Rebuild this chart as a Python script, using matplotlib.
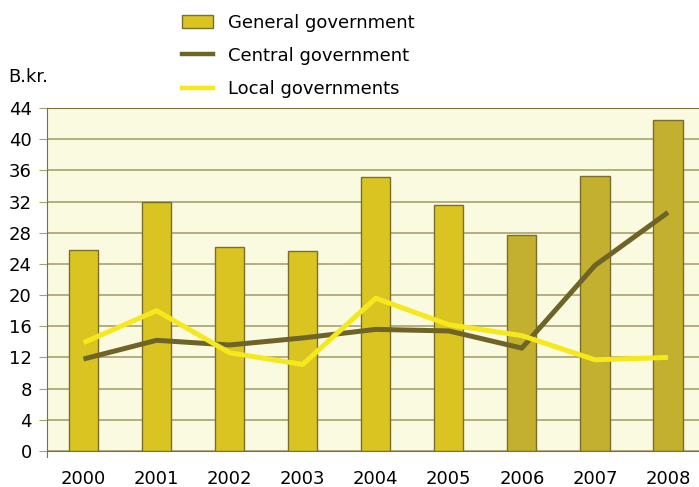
import matplotlib.pyplot as plt
from matplotlib.patches import Patch
from matplotlib.lines import Line2D
import numpy as np

# ---- DATA ----
years = ["2000", "2001", "2002", "2003", "2004", "2005", "2006", "2007", "2008"]
general = [25.8, 32.0, 26.2, 25.7, 35.2, 31.5, 27.7, 35.3, 42.5]
central = [11.8, 14.2, 13.6, 14.5, 15.6, 15.4, 13.2, 23.8, 30.6]
local = [13.9, 18.0, 12.6, 11.1, 19.6, 16.2, 14.8, 11.7, 12.0]
y_ticks = [0, 4, 8, 12, 16, 20, 24, 28, 32, 36, 40, 44]

# ---- STYLE ----
bar_col = "#DAC422"
bar_col_dark = "#C2B02E"
bar_edge = "#7A6E2A"
central_col = "#6E6428"
local_col = "#F5E81C"
bg_col = "#FAFAE0"
grid_col = "#A8A070"
plt.rcParams["font.family"] = "DejaVu Sans"
fs = 13

fig = plt.figure(figsize=(6.99, 4.87), dpi=100)
ax = fig.add_axes([47 / 699, 36 / 487, 657.5 / 699, 343 / 487])
ax.set_facecolor(bg_col)

x = np.arange(len(years))
colors = [bar_col] * 6 + [bar_col_dark] * 3
ax.bar(x, general, width=0.4, color=colors, edgecolor=bar_edge, linewidth=1.0, zorder=2)
ax.plot(x, central, color=central_col, linewidth=3.6, zorder=3, solid_capstyle="butt")
ax.plot(x, local, color=local_col, linewidth=3.6, zorder=4, solid_capstyle="butt")

ax.set_xlim(-0.5, 8.5)
ax.set_ylim(0, 44)
ax.set_yticks(y_ticks)
ax.set_xticks(x)
ax.set_xticklabels(years)
ax.tick_params(axis="y", length=6, color=grid_col, labelsize=fs, pad=5)
ax.tick_params(axis="x", length=0, labelsize=fs, pad=14)
ax.grid(axis="y", color=grid_col, linewidth=1.2, zorder=1)
ax.set_axisbelow(True)

ax.spines["right"].set_visible(False)
for s in ["top", "left", "bottom"]:
    ax.spines[s].set_color("#7A7040")
ax.spines["left"].set_bounds(-0.8, 44)

fig.text(8 / 699, 1 - 77 / 487, "B.kr.", fontsize=fs, va="center", ha="left")

handles = [
    Patch(facecolor=bar_col, edgecolor=bar_edge, label="General government"),
    Line2D([], [], color=central_col, linewidth=3.2, label="Central government"),
    Line2D([], [], color=local_col, linewidth=3.2, label="Local governments"),
]
fig.legend(handles=handles, loc="upper left", bbox_to_anchor=(168 / 699, 1.0),
           frameon=False, fontsize=fs, handlelength=1.75, handleheight=0.75,
           labelspacing=0.85, handletextpad=0.8, borderpad=0.25)

fig.savefig("out.png", dpi=100)
